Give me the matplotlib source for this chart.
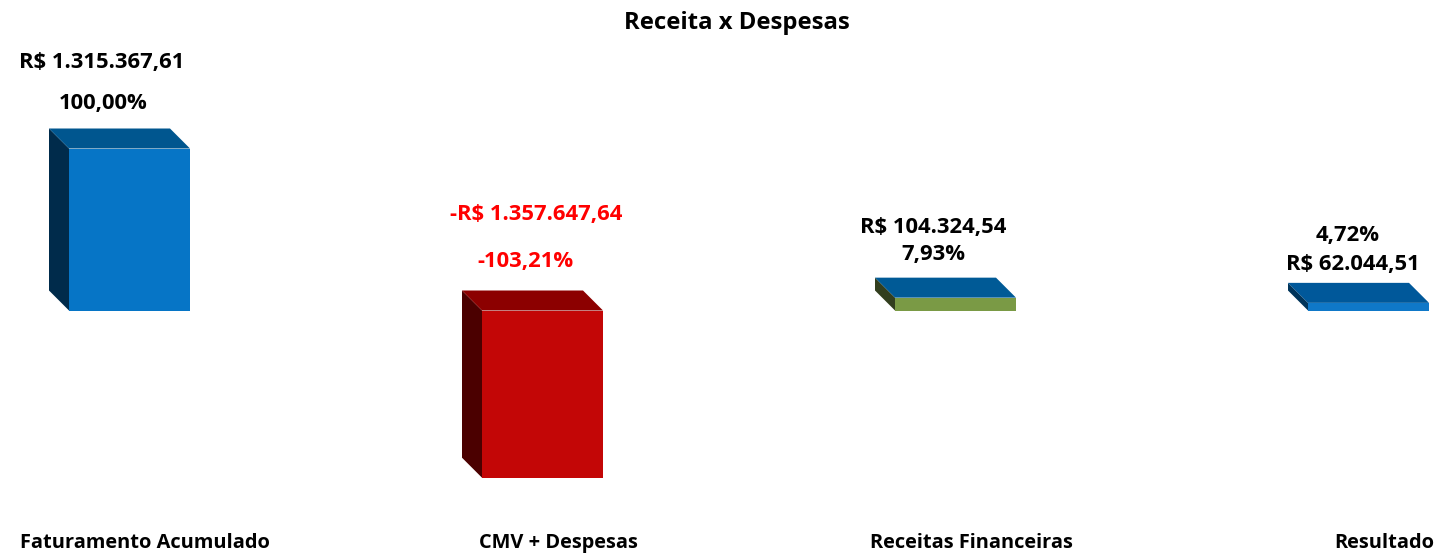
"""Receita x Despesas - barras com efeito 3D (estilo Excel)."""
import matplotlib
matplotlib.use('Agg')
import matplotlib.pyplot as plt
from matplotlib.patches import Polygon

# dados
categorias = ['Faturamento Acumulado', 'CMV + Despesas', 'Receitas Financeiras', 'Resultado']
valores = [1315367.61, -1357647.64, 104324.54, 62044.51]
rotulos_valor = ['R$ 1.315.367,61', '-R$ 1.357.647,64', 'R$ 104.324,54', 'R$ 62.044,51']
rotulos_pct = ['100,00%', '-103,21%', '7,93%', '4,72%']

# cores (frente, topo, lateral)
CORES = [
    ('#0675C6', '#00568F', '#002B4B'),
    ('#C30606', '#8C0000', '#4B0000'),
    ('#7A9A45', '#005A96', '#323E1E'),
    ('#0F78C8', '#00589A', '#00345A'),
]
COR_TXT = ['black', '#FF0000', 'black', 'black']

W, H, DPI = 1441, 553, 100
PX_CAT = 413.0          # pixels por categoria
X0_PX = 129.5           # centro da primeira barra (px)
BASE_PX = 310.5         # linha de base (px a partir do topo)
VAL_PX = 1315367.61 / 162.0   # valor por pixel
LARG = 121 / PX_CAT     # largura da frente
DX = -20 / PX_CAT       # profundidade (horizontal)
DY = 20 * VAL_PX        # profundidade (vertical)

plt.rcParams['font.family'] = ['Open Sans', 'DejaVu Sans']

fig = plt.figure(figsize=(W / DPI, H / DPI), dpi=DPI)
ax = fig.add_axes([0, 0, 1, 1])
ax.set_xlim(-X0_PX / PX_CAT, (W - X0_PX) / PX_CAT)
ax.set_ylim(-(H - BASE_PX) * VAL_PX, BASE_PX * VAL_PX)
ax.axis('off')

for i, v in enumerate(valores):
    frente, topo, lado = CORES[i]
    xl, xr = i - LARG / 2, i + LARG / 2
    y_top, y_bot = max(v, 0), min(v, 0)
    # lateral esquerda
    ax.add_patch(Polygon([(xl, y_top), (xl + DX, y_top + DY), (xl + DX, y_bot + DY), (xl, y_bot)],
                         closed=True, facecolor=lado, edgecolor='none'))
    # topo
    ax.add_patch(Polygon([(xl, y_top), (xr, y_top), (xr + DX, y_top + DY), (xl + DX, y_top + DY)],
                         closed=True, facecolor=topo, edgecolor='none'))
    # frente
    ax.add_patch(Polygon([(xl, y_bot), (xr, y_bot), (xr, y_top), (xl, y_top)],
                         closed=True, facecolor=frente, edgecolor='none'))

# posições dos rótulos (offset em px a partir do centro da frente / borda de trás do topo)
off_valor = [(-27.5, 66), (-6.5, 76), (-22.5, 50), (-15.5, 18)]
off_pct = [(-26.5, 25), (-17.5, 29), (-22.5, 23), (-20.5, 47)]

for i, v in enumerate(valores):
    y_ref = max(v, 0) + DY
    for txt, (ox, oy) in ((rotulos_valor[i], off_valor[i]), (rotulos_pct[i], off_pct[i])):
        ax.annotate(txt, xy=(i, y_ref), xytext=(ox * 72 / DPI, oy * 72 / DPI),
                    textcoords='offset points', ha='center', va='center',
                    fontsize=15.8, fontweight='bold', color=COR_TXT[i])

# rótulos das categorias
for i, c in enumerate(categorias):
    ax.annotate(c, xy=(i, 0), xytext=(15.5 * 72 / DPI, -(543 - BASE_PX) * 72 / DPI),
                textcoords='offset points', ha='center', va='center',
                fontsize=14.4, fontweight='bold', color='black')

fig.text(737 / W, 1 - 23 / H, 'Receita x Despesas', ha='center', va='center',
         fontsize=17.2, fontweight='bold')

fig.savefig('out.png', dpi=DPI)
